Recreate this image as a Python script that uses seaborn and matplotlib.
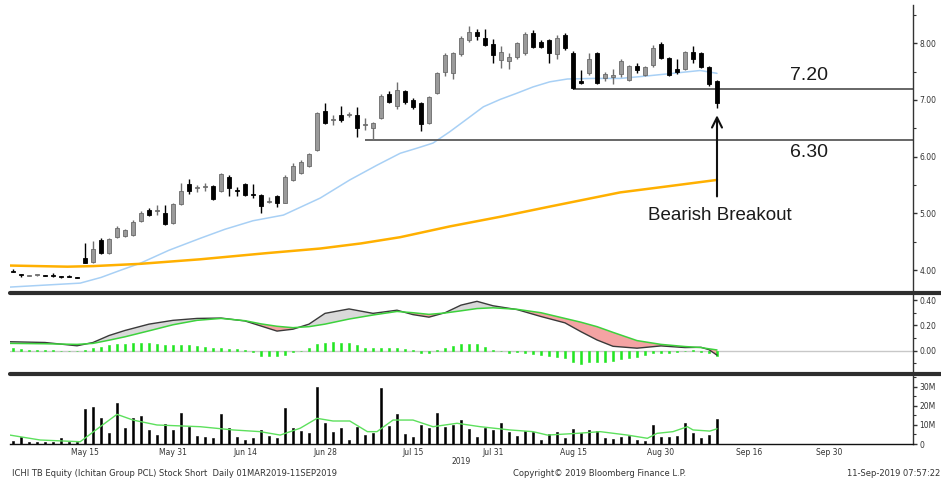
import numpy as np
import pandas as pd
import matplotlib
matplotlib.use("Agg")
import matplotlib.pyplot as plt
import seaborn as sns
from matplotlib.lines import Line2D
from matplotlib.ticker import FixedLocator, FuncFormatter

# --- data (ICHI TB, daily) ---
# SET holidays in the window, used to build the trading-day axis
holidays = ["2019-05-01", "2019-05-06", "2019-05-20", "2019-06-03",
            "2019-07-16", "2019-07-29", "2019-08-12", "2019-10-14"]
first_day = "2019-04-30"

opens = [3.98, 3.93, 3.90, 3.91, 3.90, 3.90, 3.89, 3.89, 3.88,
         4.21, 4.15, 4.53, 4.30, 4.58, 4.60, 4.62, 4.87, 5.06, 5.04,
         5.01, 4.83, 5.17, 5.52, 5.45, 5.47, 5.48, 5.40, 5.65, 5.40,
         5.52, 5.35, 5.32, 5.20, 5.31, 5.19, 5.59, 5.71, 5.84, 6.12,
         6.81, 6.65, 6.73, 6.73, 6.73, 6.55, 6.50, 6.68, 7.11, 6.90,
         7.15, 7.00, 6.95, 6.59, 7.13, 7.50, 7.48, 7.81, 8.05, 8.19,
         8.09, 7.99, 7.70, 7.69, 7.75, 7.82, 8.19, 8.03, 8.05, 7.81,
         8.15, 7.83, 7.34, 7.47, 7.83, 7.38, 7.40, 7.46, 7.36, 7.60,
         7.44, 7.62, 7.98, 7.74, 7.54, 7.54, 7.85, 7.82, 7.58, 7.34]
highs = [4.02, 3.93, 3.91, 3.92, 3.91, 3.94, 3.89, 3.91, 3.88,
         4.48, 4.52, 4.56, 4.57, 4.78, 4.73, 4.89, 5.05, 5.09, 5.15,
         5.15, 5.18, 5.54, 5.60, 5.50, 5.54, 5.50, 5.72, 5.67, 5.47,
         5.53, 5.52, 5.34, 5.29, 5.33, 5.67, 5.88, 5.94, 6.07, 6.79,
         6.94, 6.73, 6.89, 6.78, 6.87, 6.69, 6.62, 7.11, 7.16, 7.31,
         7.17, 7.03, 6.97, 7.07, 7.50, 7.82, 7.85, 8.12, 8.30, 8.26,
         8.25, 8.07, 7.95, 7.83, 8.02, 8.20, 8.23, 8.06, 8.08, 8.15,
         8.18, 7.86, 7.53, 7.83, 7.84, 7.50, 7.54, 7.72, 7.62, 7.65,
         7.60, 7.97, 8.02, 7.76, 7.73, 7.87, 7.95, 7.84, 7.60, 7.36]
lows = [3.96, 3.87, 3.89, 3.90, 3.89, 3.88, 3.86, 3.87, 3.86,
        4.12, 4.12, 4.29, 4.28, 4.56, 4.58, 4.60, 4.85, 4.96, 4.97,
        4.80, 4.81, 5.15, 5.35, 5.37, 5.40, 5.24, 5.38, 5.31, 5.31,
        5.31, 5.27, 5.01, 5.18, 5.12, 5.18, 5.57, 5.69, 5.82, 6.10,
        6.57, 6.56, 6.62, 6.70, 6.35, 6.47, 6.30, 6.66, 6.94, 6.84,
        6.93, 6.84, 6.46, 6.57, 7.11, 7.42, 7.37, 7.78, 8.03, 8.05,
        7.95, 7.66, 7.56, 7.55, 7.72, 7.80, 7.92, 7.92, 7.66, 7.72,
        7.88, 7.19, 7.29, 7.44, 7.29, 7.33, 7.28, 7.41, 7.34, 7.47,
        7.43, 7.59, 7.72, 7.43, 7.46, 7.52, 7.66, 7.57, 7.25, 6.86]
closes = [3.96, 3.91, 3.90, 3.91, 3.89, 3.89, 3.87, 3.88, 3.86,
          4.13, 4.38, 4.30, 4.54, 4.74, 4.71, 4.85, 5.00, 4.97, 5.05,
          4.81, 5.17, 5.40, 5.40, 5.45, 5.48, 5.25, 5.69, 5.44, 5.39,
          5.33, 5.33, 5.13, 5.22, 5.19, 5.64, 5.84, 5.91, 6.05, 6.77,
          6.59, 6.66, 6.65, 6.75, 6.50, 6.56, 6.59, 7.07, 6.97, 7.18,
          6.97, 6.88, 6.58, 7.05, 7.48, 7.79, 7.82, 8.10, 8.20, 8.13,
          7.97, 7.79, 7.85, 7.75, 8.00, 8.16, 7.94, 7.93, 7.83, 8.09,
          7.91, 7.21, 7.30, 7.72, 7.30, 7.45, 7.44, 7.69, 7.60, 7.52,
          7.58, 7.92, 7.74, 7.44, 7.49, 7.85, 7.72, 7.59, 7.28, 6.94]

# volume in millions of shares
volumes = [1.6, 3.8, 0.9, 0.9, 1.2, 0.9, 3.0, 1.2, 1.2,
           18.2, 19.3, 13.5, 6.0, 21.8, 8.2, 13.5, 14.7, 7.4, 4.7,
           10.7, 7.4, 16.1, 9.1, 4.2, 3.9, 3.0, 15.6, 8.6, 3.9,
           2.1, 3.3, 7.4, 4.4, 3.3, 18.8, 8.2, 6.8, 5.6, 30.2,
           10.9, 6.1, 8.2, 2.0, 8.8, 4.7, 5.6, 29.7, 9.5, 15.7,
           5.3, 3.5, 10.0, 8.2, 16.1, 9.1, 10.0, 12.4, 7.8, 3.9,
           8.2, 7.4, 10.9, 6.2, 4.2, 7.0, 6.5, 2.2, 5.4, 6.2,
           3.4, 8.0, 5.6, 7.4, 7.1, 3.4, 2.8, 3.9, 4.1, 2.1,
           1.7, 10.2, 3.5, 3.9, 4.1, 10.9, 5.6, 3.4, 4.9, 13.1]

# MACD histogram (macd - signal)
hist = [0.018, 0.013, 0.005, 0.005, 0.003, 0.003, 0.0, -0.003, -0.005,
        0.003, 0.018, 0.03, 0.045, 0.053, 0.055, 0.06, 0.06, 0.06, 0.053,
        0.045, 0.042, 0.045, 0.045, 0.04, 0.03, 0.024, 0.018, 0.016, 0.01,
        0.003, -0.013, -0.04, -0.045, -0.045, -0.03, -0.013, 0.0, 0.018, 0.055,
        0.063, 0.071, 0.063, 0.058, 0.042, 0.024, 0.018, 0.024, 0.018, 0.024,
        0.013, 0.005, -0.021, -0.021, 0.003, 0.018, 0.037, 0.05, 0.05, 0.055,
        0.03, 0.005, -0.003, -0.021, -0.013, -0.016, -0.029, -0.034, -0.04, -0.047,
        -0.06, -0.087, -0.108, -0.092, -0.087, -0.087, -0.082, -0.068, -0.055, -0.047,
        -0.034, -0.021, -0.016, -0.016, -0.013, -0.005, 0.003, -0.008, -0.021, -0.04]

# moving averages read at a few candle positions
ma50_idx = [-0.4, 8.4, 11, 13.5, 15.9, 19.5, 23.4, 26.5, 30, 33.8, 38.4, 42.1,
            45.5, 48.4, 50.5, 52.5, 54.6, 56.8, 58.8, 60.9, 63, 65, 67.1, 69.3,
            72.5, 75.9, 79, 81.8, 85.9, 88]
ma50_val = [3.70, 3.77, 3.87, 4.00, 4.12, 4.35, 4.56, 4.72, 4.87, 4.97, 5.27, 5.59,
            5.85, 6.06, 6.15, 6.24, 6.44, 6.67, 6.88, 7.01, 7.12, 7.23, 7.32, 7.37,
            7.38, 7.38, 7.42, 7.46, 7.52, 7.47]
ma200_idx = [-0.4, 6.8, 10, 15.9, 23.4, 31.8, 38.4, 43.5, 48.4, 54.6, 60.9,
             67.1, 75.9, 82, 88]
ma200_val = [4.08, 4.06, 4.07, 4.11, 4.19, 4.30, 4.38, 4.47, 4.58, 4.77, 4.94,
             5.12, 5.37, 5.48, 5.59]

volma_idx = [-0.4, 3.4, 8.4, 10.9, 13, 15, 18, 23.4, 27.5, 30.9, 33.4, 35.9, 38,
             40, 42.1, 44.3, 45.5, 47.5, 50, 52.5, 55.5, 58.4, 62.1, 65, 66.8,
             70.5, 73.4, 76.8, 79.3, 80.5, 82.5, 84.3, 85, 87.1, 88]
volma_val = [4.7, 2.1, 1.2, 9.1, 15.6, 12.6, 10.0, 9.1, 7.4, 6.5, 4.7, 8.3, 13.5,
             12.1, 12.1, 6.5, 6.5, 12.6, 12.6, 9.1, 10.9, 9.1, 7.4, 6.5, 4.7,
             5.6, 6.5, 4.7, 3.0, 5.6, 6.5, 9.1, 7.4, 6.8, 8.0]

macd_idx = [-0.4, 4, 8, 10, 12, 14, 17, 20, 23, 26, 29, 31, 33, 35, 37, 39, 42,
            45, 48, 50, 52, 54, 56, 58, 60, 63, 66, 69, 71, 73, 75, 78, 81, 84,
            86, 87, 88]
macd_val = [0.071, 0.065, 0.039, 0.065, 0.12, 0.16, 0.21, 0.24, 0.255, 0.258,
            0.235, 0.195, 0.155, 0.17, 0.21, 0.295, 0.33, 0.295, 0.32, 0.285,
            0.265, 0.30, 0.36, 0.39, 0.355, 0.325, 0.27, 0.22, 0.15, 0.085,
            0.035, 0.02, 0.038, 0.025, 0.027, 0.008, -0.035]
signal_val = [0.058, 0.055, 0.05, 0.058, 0.083, 0.11, 0.157, 0.205, 0.24, 0.255,
              0.237, 0.212, 0.193, 0.182, 0.19, 0.21, 0.25, 0.282, 0.31, 0.30,
              0.287, 0.298, 0.315, 0.333, 0.339, 0.327, 0.30, 0.255, 0.225, 0.19,
              0.145, 0.08, 0.05, 0.033, 0.025, 0.015, 0.006]

tick_dates = ["2019-05-15", "2019-05-31", "2019-06-14", "2019-06-28", "2019-07-15",
              "2019-07-31", "2019-08-15", "2019-08-30", "2019-09-16", "2019-09-30"]
tick_labels = ["May 15", "May 31", "Jun 14", "Jun 28", "Jul 15",
               "Jul 31", "Aug 15", "Aug 30", "Sep 16", "Sep 30"]

support_high = 7.20   # level drawn from the Aug 15 candle
support_low = 6.30    # level drawn from the Jul 5 candle
support_high_from = "2019-08-15"
support_low_from = "2019-07-05"

# --- trading-day axis ---
days = pd.bdate_range(first_day, "2019-10-31")
days = days[~days.isin(pd.to_datetime(holidays))]
n = len(closes)
x = np.arange(n)
pos = {d.strftime("%Y-%m-%d"): i for i, d in enumerate(days)}
tick_pos = [pos[d] for d in tick_dates]

sns.set_style("white")
plt.rcParams["font.family"] = ["DejaVu Sans"]

W, H = 941, 483
fig = plt.figure(figsize=(W / 100, H / 100), dpi=100)
left, right = 10, 913
ax_p = fig.add_axes([left / W, (H - 291) / H, (right - left) / W, 286 / H])
ax_m = fig.add_axes([left / W, (H - 372) / H, (right - left) / W, 77 / H])
ax_v = fig.add_axes([left / W, (H - 444) / H, (right - left) / W, 69 / H])
xlim = (-0.375, 112.5)

# --- price panel ---
o = np.array(opens); c = np.array(closes)
hi = np.array(highs); lo = np.array(lows)
up = c >= o
ax_p.vlines(x[up], lo[up], hi[up], color="#6f6f6f", lw=1.0, zorder=2)
ax_p.vlines(x[~up], lo[~up], hi[~up], color="#000000", lw=1.0, zorder=2)
body = np.maximum(np.abs(c - o), 0.02)
ax_p.bar(x[up], body[up], bottom=np.minimum(o, c)[up], width=0.55,
         color="#9a9a9a", edgecolor="#6a6a6a", lw=0.6, zorder=3)
ax_p.bar(x[~up], body[~up], bottom=np.minimum(o, c)[~up], width=0.55,
         color="#000000", edgecolor="#000000", lw=0.6, zorder=3)

sns.lineplot(x=ma50_idx, y=ma50_val, ax=ax_p, color="#a8d0f5", lw=1.1, zorder=1)
sns.lineplot(x=ma200_idx, y=ma200_val, ax=ax_p, color="#ffb000", lw=1.8, zorder=1)

ax_p.hlines(support_high, pos[support_high_from], xlim[1], color="#5a5a5a", lw=1.3, zorder=1)
ax_p.hlines(support_low, pos[support_low_from], xlim[1], color="#5a5a5a", lw=1.3, zorder=1)
ax_p.text(99.5, 7.44, "7.20", ha="center", va="center", fontsize=14,
          family="Liberation Sans", color="#1a1a1a")
ax_p.text(99.5, 6.08, "6.30", ha="center", va="center", fontsize=14,
          family="Liberation Sans", color="#1a1a1a")
ax_p.text(88.4, 4.97, "Bearish Breakout", ha="center", va="center", fontsize=13.5,
          family="Liberation Sans", color="#1a1a1a")
ax_p.annotate("", xy=(n - 1, 6.78), xytext=(n - 1, 5.25),
              arrowprops=dict(arrowstyle="->", lw=1.5, color="#111111",
                              mutation_scale=18))
ax_p.set_ylim(3.631, 8.675)

# --- MACD panel ---
mv = np.array(macd_val); sv = np.array(signal_val)
ax_m.axhline(0, color="#c8c8c8", lw=1.0, zorder=1)
ax_m.fill_between(macd_idx, mv, sv, where=mv >= sv, interpolate=True,
                  color="#d9d9d9", lw=0, zorder=1)
ax_m.fill_between(macd_idx, mv, sv, where=mv < sv, interpolate=True,
                  color="#f4a3a3", lw=0, zorder=1)
ax_m.bar(x, hist, width=0.22, color="#22e622", edgecolor="#22e622", lw=0.4, zorder=2)
sns.lineplot(x=macd_idx, y=macd_val, ax=ax_m, color="#3a3a3a", lw=1.0, zorder=3)
sns.lineplot(x=macd_idx, y=signal_val, ax=ax_m, color="#3dd23d", lw=1.1, zorder=3)
ax_m.set_ylim(-0.168, 0.44)

# --- volume panel ---
ax_v.bar(x, volumes, width=0.22, color="#000000", edgecolor="#000000", lw=0.4, zorder=2)
sns.lineplot(x=volma_idx, y=volma_val, ax=ax_v, color="#5de05d", lw=1.0, zorder=3)
ax_v.set_ylim(0, 36.3)

# --- axes styling ---
for ax in (ax_p, ax_m, ax_v):
    ax.set_xlim(*xlim)
    ax.set_xlabel("")
    ax.set_ylabel("")
    for s in ("left", "top", "bottom"):
        ax.spines[s].set_visible(False)
    ax.spines["right"].set_color("#333333")
    ax.spines["right"].set_linewidth(1.0)
    ax.yaxis.tick_right()
    ax.tick_params(axis="y", which="major", direction="out", length=3, width=1,
                   pad=1.5, labelsize=5.5, colors="#333333")
    ax.tick_params(axis="y", which="minor", direction="out", length=2, width=0.8,
                   colors="#333333")
    ax.set_facecolor("white")

ax_p.set_xticks([])
ax_m.set_xticks([])

ax_p.yaxis.set_major_locator(FixedLocator([4, 5, 6, 7, 8]))
ax_p.yaxis.set_minor_locator(FixedLocator([3.5, 4.5, 5.5, 6.5, 7.5, 8.5]))
ax_p.yaxis.set_major_formatter(FuncFormatter(lambda v, p: f"{v:.2f}"))

ax_m.yaxis.set_major_locator(FixedLocator([0.0, 0.2, 0.4]))
ax_m.yaxis.set_minor_locator(FixedLocator([-0.1, 0.1, 0.3]))
ax_m.yaxis.set_major_formatter(FuncFormatter(lambda v, p: f"{v:.2f}"))

ax_v.yaxis.set_major_locator(FixedLocator([0, 10, 20, 30]))
ax_v.yaxis.set_minor_locator(FixedLocator([5, 15, 25, 35]))
ax_v.yaxis.set_major_formatter(FuncFormatter(lambda v, p: "0" if v == 0 else f"{v:.0f}M"))

ax_v.spines["bottom"].set_visible(True)
ax_v.spines["bottom"].set_color("#111111")
ax_v.spines["bottom"].set_linewidth(1.0)
ax_v.set_xticks(tick_pos)
ax_v.set_xticklabels(tick_labels)
mids = [(a + b) / 2 for a, b in zip(tick_pos[:-1], tick_pos[1:])]
mids = [tick_pos[0] - (tick_pos[1] - tick_pos[0]) / 2] + mids + \
       [tick_pos[-1] + (tick_pos[-1] - tick_pos[-2]) / 2]
ax_v.xaxis.set_minor_locator(FixedLocator(mids))
ax_v.tick_params(axis="x", which="major", direction="out", length=1.5, width=0.8,
                 pad=1.5, labelsize=5.5, colors="#333333")
ax_v.tick_params(axis="x", which="minor", direction="out", length=3.5, width=0.9,
                 colors="#333333")

# panel separators
for yy in (292.5, 373.5):
    fig.add_artist(Line2D([left / W, 1.0], [1 - yy / H] * 2, lw=3.0,
                          color="#2e2e2e", transform=fig.transFigure))

# footer
fig.text((left + (right - left) * (np.mean(xlim) - xlim[0]) / (xlim[1] - xlim[0])) / W,
         1 - 462 / H, "2019", ha="center", va="center", fontsize=5.5, color="#333333")
fig.text(12 / W, 1 - 474 / H,
         "ICHI TB Equity (Ichitan Group PCL) Stock Short  Daily 01MAR2019-11SEP2019",
         ha="left", va="center", fontsize=6, color="#333333")
fig.text(600 / W, 1 - 474 / H, "Copyright\u00a9 2019 Bloomberg Finance L.P.",
         ha="center", va="center", fontsize=6, color="#333333")
fig.text(940 / W, 1 - 474 / H, "11-Sep-2019 07:57:22",
         ha="right", va="center", fontsize=6, color="#333333")

fig.savefig("out.png", dpi=100, facecolor="white")
